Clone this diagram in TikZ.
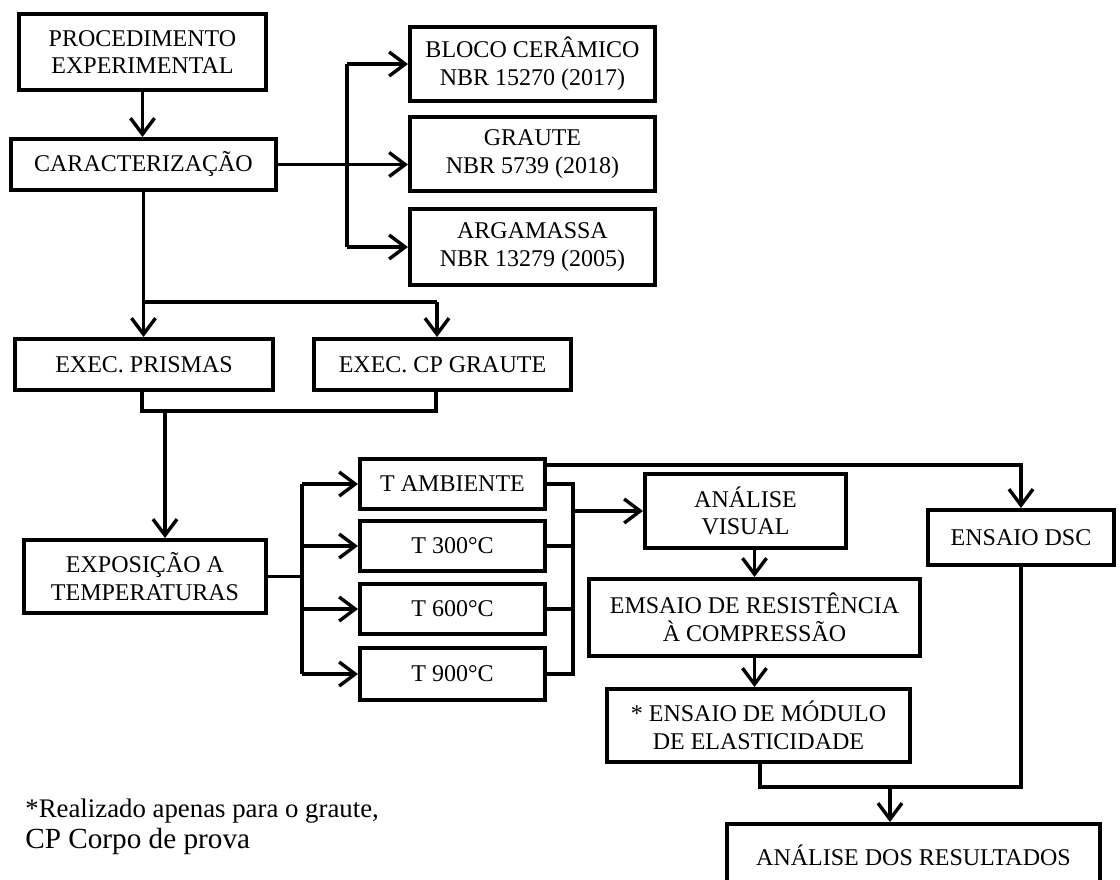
\documentclass[tikz,border=0pt]{standalone}
\usepackage{fontspec}
\setmainfont{Liberation Serif}
\usetikzlibrary{arrows.meta,calc}
\begin{document}
\begin{tikzpicture}[x=0.5pt,y=-0.5pt,
  box/.style={draw,line width=2pt,align=center,inner sep=0pt,font=\fontsize{12}{13.8}\selectfont},
  sz/.style 2 args={minimum width=#1*0.5pt,minimum height=#2*0.5pt},
  conn/.style={line width=1.7pt},
  arr/.style={conn,-{Straight Barb[length=8pt,width=12pt]}},
  note/.style={anchor=base west,inner sep=0pt}]
\useasboundingbox (0,0) rectangle (1120,879);

% boxes
\node[box,sz={247}{76}] (proc) at (142.5,52) {PROCEDIMENTO\\EXPERIMENTAL};
\node[box,sz={265}{51}] (carac) at (143.5,164.5) {CARACTERIZAÇÃO};
\node[box,sz={245}{74}] (bloco) at (532.5,64) {BLOCO CERÂMICO\\NBR 15270 (2017)};
\node[box,sz={245}{74}] (graute) at (532.5,154) {GRAUTE\\NBR 5739 (2018)};
\node[box,sz={245}{76}] (argam) at (532.5,247) {ARGAMASSA\\NBR 13279 (2005)};
\node[box,sz={258}{51}] (prismas) at (144,364.5) {EXEC. PRISMAS};
\node[box,sz={257}{51}] (cpgraute) at (442.5,364.5) {EXEC. CP GRAUTE};
\node[box,sz={242}{73}] (expos) at (145,576.5) {EXPOSIÇÃO A\\TEMPERATURAS};
\node[box,sz={185}{50}] (tamb) at (452.5,484) {T AMBIENTE};
\node[box,sz={185}{50}] (t300) at (452.5,546) {T 300°C};
\node[box,sz={185}{50}] (t600) at (452.5,609) {T 600°C};
\node[box,sz={185}{52}] (t900) at (452.5,674) {T 900°C};
\node[box,sz={201}{74}] (avis) at (745.5,511) {ANÁLISE\\VISUAL};
\node[box,sz={331}{77}] (emsaio) at (754.5,617.5) {EMSAIO DE RESISTÊNCIA\\À COMPRESSÃO};
\node[box,sz={303}{73}] (modulo) at (758.5,725.5) {* ENSAIO DE MÓDULO\\DE ELASTICIDADE};
\node[box,sz={186}{55}] (dsc) at (1021,537.5) {ENSAIO DSC};
\node[box,sz={373}{62}] (result) at (913.5,855) {ANÁLISE DOS RESULTADOS};

% notes
\node[note,font=\fontsize{13.4}{15}\selectfont] (fn1) at (25,817) {*Realizado apenas para o graute,};
\node[note,font=\fontsize{14.6}{16}\selectfont] (fn2) at (25,848) {CP Corpo de prova};

% connectors: top part
\draw[arr] (proc.south) -- (proc.south |- carac.north);
\coordinate (bx) at (347,0);
\draw[conn] (bx |- bloco.west) -- (bx |- argam.west);
\draw[conn] (carac.east) -- (bx |- carac.east);
\draw[arr] (bx |- carac.east) -- (graute.west |- carac.east);
\draw[arr] (bx |- bloco.west) -- (bloco.west);
\draw[arr] (bx |- argam.west) -- (argam.west);

% caracterizacao -> exec
\coordinate (j1) at (143.5,302);
\coordinate (j2) at (437,302);
\draw[conn] (carac.south) -- (j1) -- (j2);
\draw[arr] (j1) -- (j1 |- prismas.north);
\draw[arr] (j2) -- (j2 |- cpgraute.north);

% merge exec -> exposicao
\coordinate (m1) at (142,411);
\coordinate (m2) at (436,411);
\coordinate (m3) at (165,411);
\draw[conn] (prismas.south -| m1) -- (m1) -- (m2) -- (cpgraute.south -| m2);
\draw[arr] (m3) -- (m3 |- expos.north);

% exposicao -> temperatures
\coordinate (tb) at (302,0);
\draw[conn] (expos.east) -- (tb |- expos.east);
\draw[conn] (tb |- tamb.west) -- (tb |- t900.west);
\draw[arr] (tb |- tamb.west) -- (tamb.west);
\draw[arr] (tb |- t300.west) -- (t300.west);
\draw[arr] (tb |- t600.west) -- (t600.west);
\draw[arr] (tb |- t900.west) -- (t900.west);

% temperatures -> analise visual
\coordinate (rb) at (573,0);
\draw[conn] (tamb.east) -- (rb |- tamb.east) -- (rb |- t900.east) -- (t900.east);
\draw[conn] (t300.east) -- (rb |- t300.east);
\draw[conn] (t600.east) -- (rb |- t600.east);
\draw[arr] (rb |- avis.west) -- (avis.west);

% t ambiente -> dsc
\draw[arr] ($(tamb.north east)+(0,8)$) -| (dsc.north);

% chain
\draw[arr] (avis.south -| emsaio.north) -- (emsaio.north);
\draw[arr] (emsaio.south) -- (emsaio.south |- modulo.north);

% merge -> resultados
\coordinate (m4) at (760,787);
\coordinate (m5) at (1021,787);
\coordinate (m6) at (890,787);
\draw[conn] (modulo.south -| m4) -- (m4) -- (m5) -- (dsc.south);
\draw[arr] (m6) -- (m6 |- result.north);
\end{tikzpicture}
\end{document}
